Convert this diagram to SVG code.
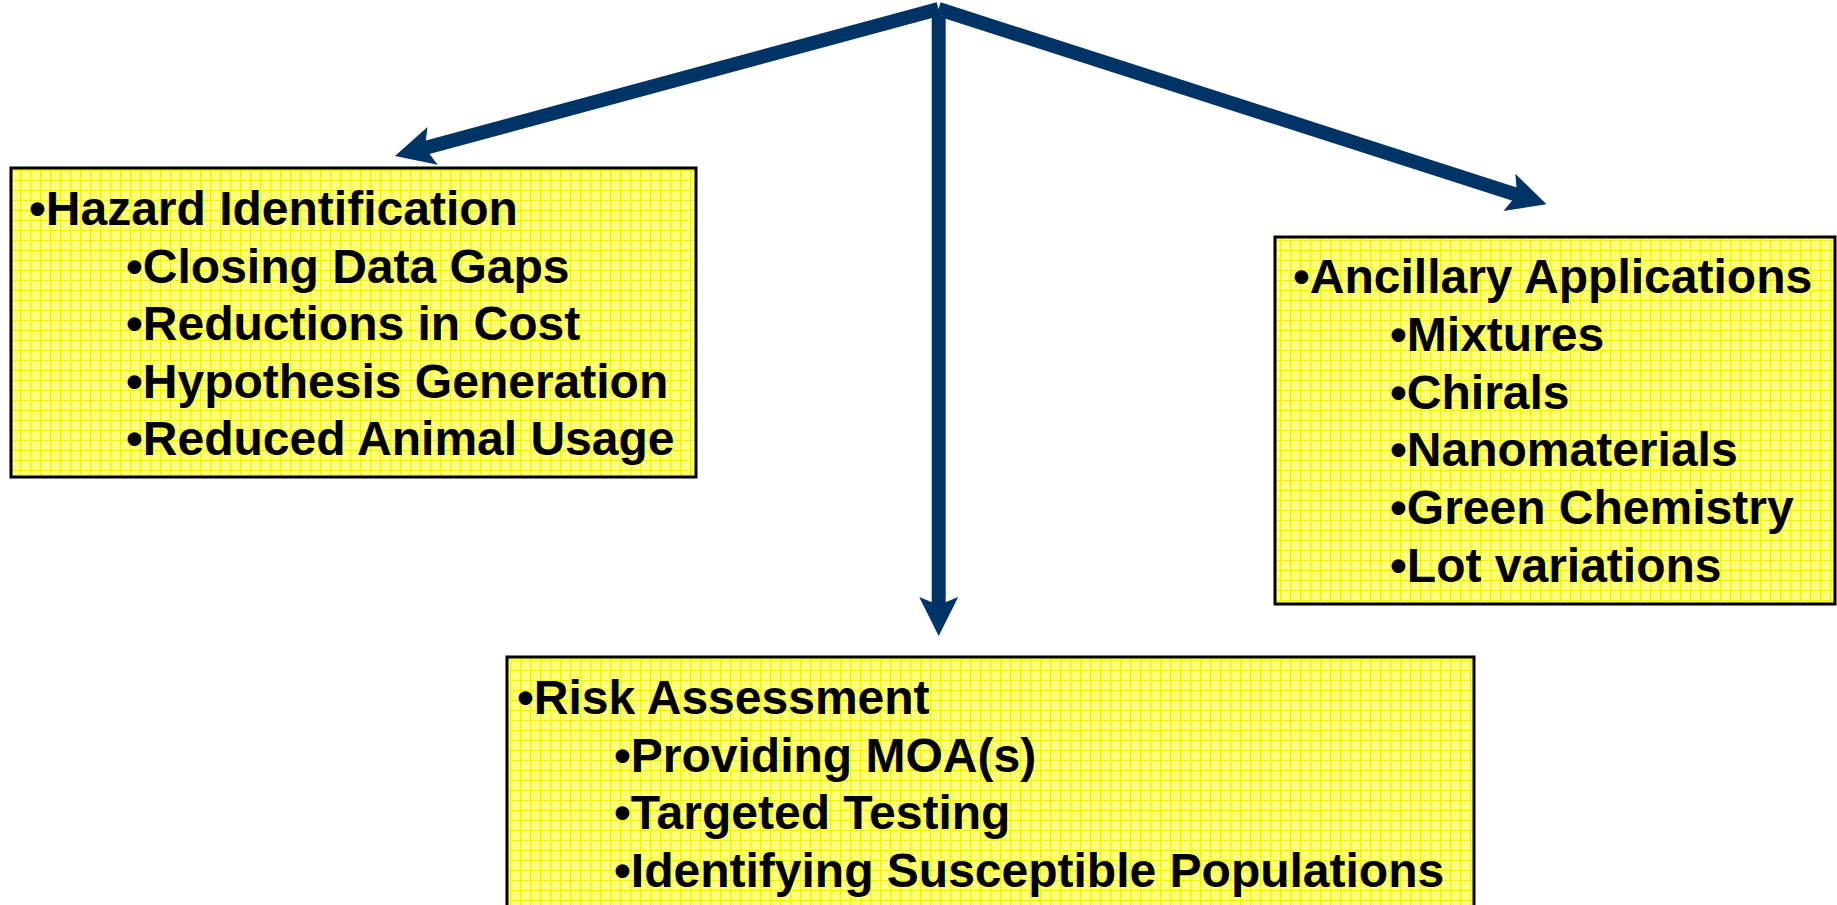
<svg xmlns="http://www.w3.org/2000/svg" width="1837" height="905" viewBox="0 0 1837 905">
  <defs>
    <!-- yellow fill with fine grid -->
    <pattern id="grid" width="10" height="10" patternUnits="userSpaceOnUse">
      <rect width="10" height="10" fill="#ffff80"/>
      <path d="M0 0.5 H10 M0.5 0 V10" stroke="#f2ee10" stroke-width="1" fill="none"/>
    </pattern>
    <marker id="head" markerUnits="userSpaceOnUse" markerWidth="60" markerHeight="60" refX="0" refY="0" orient="auto" overflow="visible">
      <path d="M31 0 L-8 -19.5 L0 0 L-8 19.5 Z" fill="#003366"/>
    </marker>
  </defs>
  <style>
    .box { fill: url(#grid); stroke: #000; stroke-width: 3; }
    .conn { stroke: #003366; stroke-width: 14; fill: none; stroke-linecap: butt; }
    text { font-family: "Liberation Sans", Arial, sans-serif; font-weight: bold; font-size: 48px; fill: #000; }
  </style>

  <rect width="1837" height="905" fill="#ffffff"/>

  <g id="connectors">
    <line class="conn" x1="938.5" y1="9" x2="424.9" y2="147.9" marker-end="url(#head)"/>
    <line class="conn" x1="938.5" y1="9" x2="1517" y2="194.8" marker-end="url(#head)"/>
    <line class="conn" x1="938.7" y1="9" x2="938.7" y2="605" marker-end="url(#head)"/>
  </g>

  <g id="hazard">
    <rect class="box" x="11" y="168" width="685" height="309"/>
    <text x="29" y="225">•Hazard Identification</text>
    <text x="126" y="282.5">•Closing Data Gaps</text>
    <text x="126" y="340">•Reductions in Cost</text>
    <text x="126" y="397.5">•Hypothesis Generation</text>
    <text x="126" y="455">•Reduced Animal Usage</text>
  </g>

  <g id="ancillary">
    <rect class="box" x="1275" y="237" width="560" height="367"/>
    <text x="1293" y="293">•Ancillary Applications</text>
    <text x="1390" y="351">•Mixtures</text>
    <text x="1390" y="408.5">•Chirals</text>
    <text x="1390" y="466">•Nanomaterials</text>
    <text x="1390" y="524">•Green Chemistry</text>
    <text x="1390" y="581.5">•Lot variations</text>
  </g>

  <g id="risk">
    <rect class="box" x="507" y="657" width="967" height="270"/>
    <text x="517" y="714">•Risk Assessment</text>
    <text x="614" y="771.5">•Providing MOA(s)</text>
    <text x="614" y="829">•Targeted Testing</text>
    <text x="614" y="886.5">•Identifying Susceptible Populations</text>
  </g>
</svg>
